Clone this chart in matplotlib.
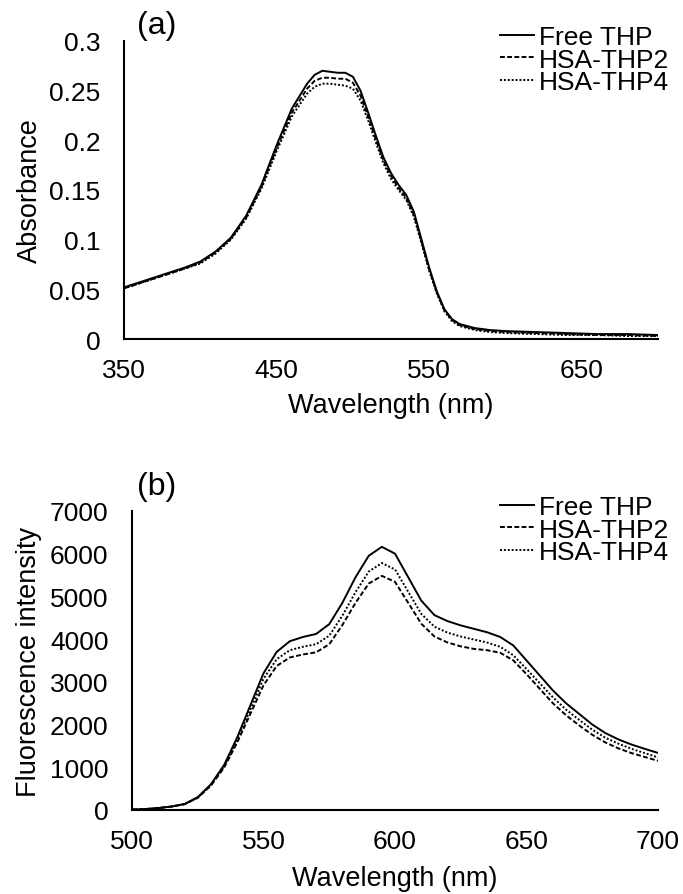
import matplotlib.pyplot as plt

plt.rcParams['font.family'] = ['Liberation Sans', 'DejaVu Sans']

# (a) absorbance
abs_wl = [350, 360, 370, 380, 390, 400, 410, 420, 430, 440, 450, 460, 470, 475, 480, 485,
          490, 495, 500, 505, 510, 515, 520, 525, 530, 535, 540, 545, 550, 555, 560, 565,
          570, 580, 590, 600, 620, 640, 660, 680, 700]
abs_free = [0.052, 0.057, 0.062, 0.067, 0.072, 0.078, 0.088, 0.102, 0.124, 0.155, 0.195,
            0.232, 0.257, 0.266, 0.270, 0.269, 0.268, 0.268, 0.264, 0.250, 0.228, 0.205,
            0.183, 0.167, 0.155, 0.145, 0.128, 0.100, 0.072, 0.048, 0.030, 0.020, 0.015,
            0.011, 0.009, 0.008, 0.007, 0.006, 0.005, 0.005, 0.004]
abs_thp2 = [0.051, 0.056, 0.061, 0.066, 0.071, 0.077, 0.087, 0.101, 0.122, 0.153, 0.192,
            0.228, 0.252, 0.260, 0.263, 0.263, 0.262, 0.262, 0.258, 0.245, 0.224, 0.201,
            0.180, 0.164, 0.152, 0.142, 0.125, 0.098, 0.070, 0.047, 0.029, 0.019, 0.014,
            0.010, 0.008, 0.007, 0.006, 0.005, 0.004, 0.004, 0.003]
abs_thp4 = [0.051, 0.056, 0.061, 0.066, 0.071, 0.076, 0.086, 0.100, 0.121, 0.151, 0.189,
            0.224, 0.247, 0.254, 0.257, 0.257, 0.256, 0.255, 0.252, 0.240, 0.220, 0.198,
            0.177, 0.161, 0.150, 0.140, 0.123, 0.096, 0.069, 0.046, 0.028, 0.018, 0.013,
            0.009, 0.007, 0.006, 0.005, 0.004, 0.004, 0.003, 0.003]

# (b) fluorescence
fl_wl = list(range(500, 701, 5))
fl_free = [10, 20, 45, 80, 140, 300, 600, 1050, 1700, 2450, 3200, 3700, 3950, 4050, 4120,
           4350, 4850, 5450, 5950, 6160, 6000, 5450, 4900, 4560, 4420, 4320, 4240, 4160,
           4050, 3850, 3500, 3150, 2800, 2500, 2250, 2000, 1800, 1650, 1530, 1430, 1335]
fl_thp2 = [10, 20, 45, 80, 135, 285, 570, 990, 1580, 2250, 2920, 3370, 3570, 3640, 3690,
           3880, 4330, 4850, 5300, 5480, 5340, 4850, 4360, 4060, 3920, 3830, 3770, 3740,
           3680, 3500, 3180, 2840, 2500, 2220, 1980, 1760, 1580, 1440, 1330, 1240, 1150]
fl_thp4 = [10, 20, 45, 80, 138, 290, 585, 1020, 1640, 2350, 3070, 3530, 3740, 3820, 3880,
           4080, 4550, 5100, 5580, 5780, 5630, 5110, 4590, 4290, 4150, 4060, 3990, 3920,
           3820, 3620, 3300, 2970, 2640, 2350, 2110, 1880, 1690, 1550, 1430, 1330, 1230]

labels = ['Free THP', 'HSA-THP2', 'HSA-THP4']
styles = ['-', (0, (2.5, 1.2)), (0, (1, 1))]

fig = plt.figure(figsize=(6.83, 8.95), dpi=100)
ax1 = fig.add_axes([0.1816, 0.6201, 0.7818, 0.333])
ax2 = fig.add_axes([0.1933, 0.0939, 0.7701, 0.3341])


def estilo(ax):
    for s in ['top', 'right']:
        ax.spines[s].set_visible(False)
    for s in ['left', 'bottom']:
        ax.spines[s].set_linewidth(1.5)
    ax.tick_params(length=0, labelsize=19)
    ax.tick_params(axis='y', pad=17)
    ax.tick_params(axis='x', pad=14)


for ys, ls, lb in zip([abs_free, abs_thp2, abs_thp4], styles, labels):
    ax1.plot(abs_wl, ys, color='black', linestyle=ls, linewidth=1.4, label=lb)
ax1.set_xlim(350, 700)
ax1.set_ylim(0, 0.3)
ax1.set_xticks([350, 450, 550, 650])
ax1.set_yticks([0, 0.05, 0.1, 0.15, 0.2, 0.25, 0.3])
ax1.set_yticklabels(['0', '0.05', '0.1', '0.15', '0.2', '0.25', '0.3'])
estilo(ax1)
ax1.set_xlabel('Wavelength (nm)', fontsize=19.5)
ax1.set_ylabel('Absorbance', fontsize=19.5)
ax1.xaxis.set_label_coords(0.5, -0.178)
ax1.yaxis.set_label_coords(-0.152, 0.5)

for ys, ls, lb in zip([fl_free, fl_thp2, fl_thp4], styles, labels):
    ax2.plot(fl_wl, ys, color='black', linestyle=ls, linewidth=1.4, label=lb)
ax2.set_xlim(500, 700)
ax2.set_ylim(0, 7000)
ax2.set_xticks([500, 550, 600, 650, 700])
ax2.set_yticks(range(0, 7001, 1000))
estilo(ax2)
ax2.set_xlabel('Wavelength (nm)', fontsize=19.5)
ax2.set_ylabel('Fluorescence intensity', fontsize=19.5)
ax2.xaxis.set_label_coords(0.5, -0.184)
ax2.yaxis.set_label_coords(-0.171, 0.5)

for ax, yy in [(ax1, 1 - 26 / 895), (ax2, 1 - 496 / 895)]:
    ax.legend(loc='upper left', bbox_to_anchor=(500 / 683, yy), bbox_transform=fig.transFigure,
              frameon=False, fontsize=19, handlelength=1.3, handletextpad=0.19,
              labelspacing=-0.05, borderaxespad=0, borderpad=0)

fig.text(157 / 683, 1 - 26 / 895, '(a)', fontsize=23, ha='center', va='center')
fig.text(157 / 683, 1 - 487 / 895, '(b)', fontsize=23, ha='center', va='center')

fig.savefig('out.png', dpi=100)
